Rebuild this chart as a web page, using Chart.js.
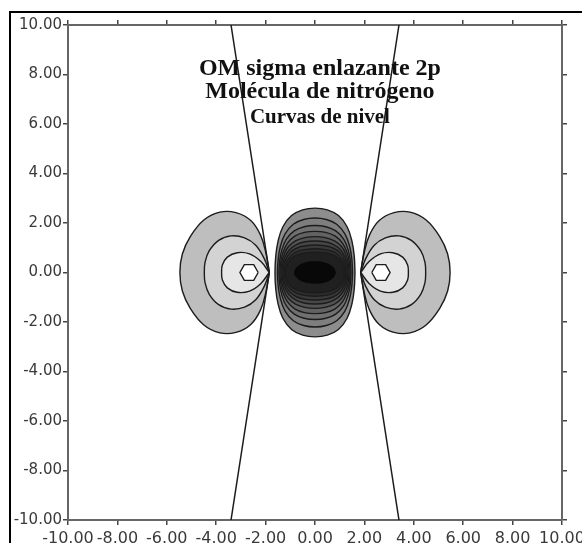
<!DOCTYPE html>
<html>
<head>
<meta charset="utf-8">
<script src="https://cdn.jsdelivr.net/npm/chart.js@4.4.1/dist/chart.umd.min.js"></script>
<style>
    html, body { margin: 0; padding: 0; background: #fff; overflow: hidden; }
    #wrap { position: relative; width: 582px; height: 543px; }
</style>
</head>
<body>
<div id="wrap"><canvas id="grafica" width="582" height="543"></canvas></div>
<script>
// Ejes y textos
const tickValues = [-10, -8, -6, -4, -2, 0, 2, 4, 6, 8, 10];
const tickLabels = ["-10.00", "-8.00", "-6.00", "-4.00", "-2.00", "0.00", "2.00", "4.00", "6.00", "8.00", "10.00"];
const titulo = ["OM sigma enlazante 2p", "Molécula de nitrógeno", "Curvas de nivel"];

// Lóbulo central (positivo): primer cuadrante de cada curva, desde (x,0) hasta (0,y)
const lobuloCentral = [
    [[1.62, 0], [1.59, 0.65], [1.5, 1.25], [1.3, 1.85], [0.95, 2.3], [0.5, 2.53], [0, 2.6]],
    [[1.52, 0], [1.49, 0.55], [1.4, 1.06], [1.21, 1.56], [0.88, 1.95], [0.46, 2.14], [0, 2.2]],
    [[1.46, 0], [1.43, 0.48], [1.34, 0.92], [1.16, 1.35], [0.84, 1.68], [0.44, 1.85], [0, 1.9]],
    [[1.42, 0], [1.39, 0.42], [1.3, 0.8], [1.12, 1.18], [0.82, 1.47], [0.43, 1.62], [0, 1.66]],
    [[1.38, 0], [1.35, 0.37], [1.26, 0.7], [1.09, 1.03], [0.79, 1.28], [0.41, 1.41], [0, 1.45]],
    [[1.34, 0], [1.31, 0.32], [1.22, 0.61], [1.05, 0.9], [0.77, 1.12], [0.4, 1.24], [0, 1.27]],
    [[1.3, 0], [1.27, 0.28], [1.18, 0.53], [1.02, 0.79], [0.75, 0.98], [0.39, 1.08], [0, 1.11]],
    [[1.25, 0], [1.22, 0.24], [1.14, 0.46], [0.98, 0.68], [0.72, 0.85], [0.38, 0.93], [0, 0.96]],
    [[1.2, 0], [1.17, 0.21], [1.09, 0.39], [0.94, 0.58], [0.69, 0.72], [0.36, 0.8], [0, 0.82]],
];
const nucleoCentral = [[0.85, 0], [0.78, 0.17], [0.6, 0.32], [0.32, 0.42], [0, 0.45]];
const grisesCentral = ["#8d8d8d", "#7e7e7e", "#707070", "#626262", "#545454", "#474747", "#3a3a3a", "#2d2d2d", "#202020"];

// Lóbulo lateral izquierdo (negativo): mitad superior, desde el nodo hasta el extremo
const lobuloLateral = [
    [[-1.85, 0], [-1.98, 0.75], [-2.2, 1.5], [-2.6, 2.1], [-3.2, 2.42], [-3.85, 2.44], [-4.5, 2.12], [-5.05, 1.45], [-5.37, 0.75], [-5.47, 0]],
    [[-1.85, 0], [-2.05, 0.55], [-2.4, 1.1], [-2.85, 1.4], [-3.4, 1.48], [-3.9, 1.3], [-4.28, 0.88], [-4.45, 0.42], [-4.48, 0]],
    [[-1.85, 0], [-2.2, 0.45], [-2.65, 0.75], [-3.15, 0.8], [-3.55, 0.62], [-3.75, 0.3], [-3.78, 0]],
];
const grisesLateral = ["#bebebe", "#d3d3d3", "#e6e6e6"];
const hexagono = [[-2.3, 0], [-2.48, 0.32], [-2.86, 0.32], [-3.04, 0], [-2.86, -0.32], [-2.48, -0.32], [-2.3, 0]];

// Superficies nodales
const nodoIzq = [[-3.4, 10], [-1.85, 0], [-3.4, -10]];
const nodoDer = [[3.4, 10], [1.85, 0], [3.4, -10]];

const aPuntos = (lista, sx = 1) => lista.map(([x, y]) => ({ x: x * sx, y: y }));

// cierra una curva del lóbulo central reflejando el cuadrante en los dos ejes
function cerrarCentral(c) {
    const q1 = c.map(([x, y]) => [x, y]);
    const q2 = c.slice(0, -1).reverse().map(([x, y]) => [-x, y]);
    const q3 = c.slice(1).map(([x, y]) => [-x, -y]);
    const q4 = c.slice(0, -1).reverse().map(([x, y]) => [x, -y]);
    return aPuntos([...q1, ...q2, ...q3, ...q4]);
}

// cierra una curva lateral reflejando la mitad superior
function cerrarLateral(m, sx) {
    const abajo = m.slice(0, -1).reverse().map(([x, y]) => [x, -y]);
    return aPuntos([...m, ...abajo], sx);
}

function curva(data, fondo, borde = 1.4, tension = 0.4) {
    return {
        data: data,
        showLine: true,
        fill: fondo ? "shape" : false,
        backgroundColor: fondo || "transparent",
        borderColor: "#1c1c1c",
        borderWidth: borde,
        pointRadius: 0,
        tension: tension,
    };
}

const capas = [];
[1, -1].forEach((sx) => {
    lobuloLateral.forEach((m, i) => capas.push(curva(cerrarLateral(m, sx), grisesLateral[i])));
    capas.push(curva(aPuntos(hexagono, sx), "#ffffff", 1.4, 0));
});
lobuloCentral.forEach((c, i) => capas.push(curva(cerrarCentral(c), grisesCentral[i])));
capas.push(curva(cerrarCentral(nucleoCentral), "#080808", 0));
capas.push(curva(aPuntos(nodoIzq), null, 1.5, 0));
capas.push(curva(aPuntos(nodoDer), null, 1.5, 0));
// la primera capa queda abajo
capas.forEach((d, i) => (d.order = capas.length - i));

const rejilla = { drawOnChartArea: false, drawTicks: true, tickLength: 5, tickColor: "#444", lineWidth: 1.5 };
const borde = { display: true, color: "#666", width: 2 };
const fijarTicks = (s) => { s.ticks = tickValues.map((v) => ({ value: v })); };

function eje(posicion, tam, conTexto) {
    const horizontal = posicion === "top" || posicion === "bottom";
    return {
        type: "linear",
        position: posicion,
        min: -10,
        max: 10,
        grid: rejilla,
        border: borde,
        afterBuildTicks: fijarTicks,
        ticks: {
            display: conTexto,
            autoSkip: false,
            maxRotation: 0,
            padding: horizontal ? 4 : 1,
            color: "#3a3a3a",
            font: { family: "DejaVu Sans", size: horizontal ? 16 : 15 },
            callback: (v, i) => tickLabels[i],
        },
        afterFit: (s) => {
            if (horizontal) s.height = tam; else s.width = tam;
            s.paddingLeft = 0; s.paddingRight = 0; s.paddingTop = 0; s.paddingBottom = 0;
        },
    };
}

const marcoYTitulo = {
    id: "marcoYTitulo",
    beforeDraw(chart) {
        const ctx = chart.ctx;
        ctx.save();
        ctx.fillStyle = "#fff";
        ctx.fillRect(0, 0, chart.width, chart.height);
        ctx.strokeStyle = "#000";
        ctx.lineWidth = 2;
        ctx.beginPath();
        ctx.moveTo(10, chart.height);
        ctx.lineTo(10, 12);
        ctx.lineTo(chart.width, 12);
        ctx.stroke();
        ctx.restore();
    },
    afterDatasetsDraw(chart) {
        const ctx = chart.ctx;
        const cx = chart.scales.x.getPixelForValue(0.2);
        const top = chart.chartArea.top;
        ctx.save();
        ctx.fillStyle = "#111";
        ctx.textAlign = "center";
        ctx.textBaseline = "alphabetic";
        ctx.font = 'bold 24px "Liberation Serif"';
        ctx.fillText(titulo[0], cx, top + 50);
        ctx.fillText(titulo[1], cx, top + 73);
        ctx.font = 'bold 21px "Liberation Serif"';
        ctx.fillText(titulo[2], cx, top + 98);
        ctx.restore();
    },
};

new Chart(document.getElementById("grafica"), {
    type: "scatter",
    data: { datasets: capas },
    options: {
        responsive: false,
        animation: false,
        events: [],
        layout: { padding: 0 },
        plugins: { legend: { display: false }, tooltip: { enabled: false } },
        scales: {
            x: eje("bottom", 23, true),
            x2: eje("top", 25, false),
            y: eje("left", 68, true),
            y2: eje("right", 20, false),
        },
    },
    plugins: [marcoYTitulo],
});
</script>
</body>
</html>
